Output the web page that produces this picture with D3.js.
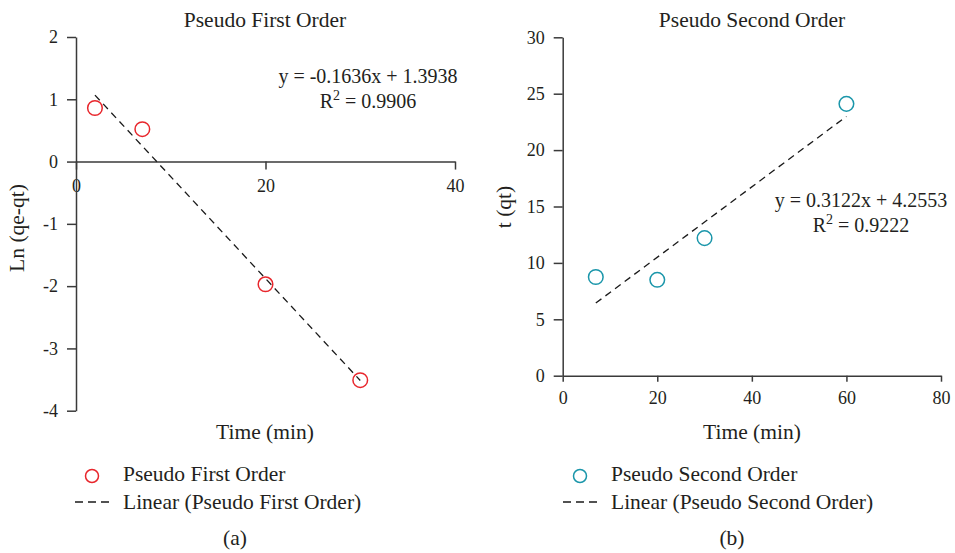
<!DOCTYPE html>
<html>
<head>
<meta charset="utf-8">
<script src="https://cdn.jsdelivr.net/npm/d3@7"></script>
<style>
    html, body { margin: 0; padding: 0; background: #fff; }
    svg text { font-family: "Liberation Serif", "Times New Roman", serif; fill: #231f20; }
</style>
</head>
<body>
<div id="chart-area"></div>
<script>
// Pseudo first order (panel a)
const pfoTime = [2, 7, 20, 30];
const pfoLn = [0.86, 0.52, -1.97, -3.51];
const pfoFit = [-0.1636, 1.3938];   // slope, intercept
const pfoR2 = '0.9906';

// Pseudo second order (panel b)
const psoTime = [7, 20, 30, 60];
const psoT = [8.75, 8.5, 12.2, 24.1];
const psoFit = [0.3122, 4.2553];
const psoR2 = '0.9222';

// Tick labels
const pfoXTicks = [0, 20, 40];
const pfoYTicks = [-4, -3, -2, -1, 0, 1, 2];
const psoXTicks = [0, 20, 40, 60, 80];
const psoYTicks = [0, 5, 10, 15, 20, 25, 30];

;(function () {
    'use strict';

    const WIDTH = 955;
    const HEIGHT = 553;
    const AXIS = '#3a3a3a';
    const RED = '#e8262c';
    const TEAL = '#1a96aa';
    const WORDS = '21.5px';     // titles, axis labels, legend
    const NUMS = '20px';        // equation text

    const svg = d3.select('#chart-area').append('svg')
        .attr('width', WIDTH)
        .attr('height', HEIGHT);

    function styleAxis(g) {
        g.select('.domain').attr('stroke', AXIS).attr('stroke-width', 1.5);
        g.selectAll('.tick line').attr('stroke', AXIS).attr('stroke-width', 1.5);
        g.selectAll('.tick text')
            .attr('font-family', '"Liberation Serif", serif')
            .attr('font-size', '18px')
            .attr('fill', '#231f20');
    }

    // Draws one panel; "p" holds everything that differs between a and b
    function panel(p) {
        const x = d3.scaleLinear().domain(p.xDomain).range(p.xRange);
        const y = d3.scaleLinear().domain(p.yDomain).range(p.yRange);

        // X axis sits on y = 0
        const gx = svg.append('g')
            .attr('transform', `translate(0,${y(0)})`)
            .call(d3.axisBottom(x).tickValues(p.xTicks).tickSize(p.xTickLen)
                .tickSizeOuter(0).tickPadding(p.xPad).tickFormat(d => String(d)));
        styleAxis(gx);

        const gy = svg.append('g')
            .attr('transform', `translate(${x(0)},0)`)
            .call(d3.axisLeft(y).tickValues(p.yTicks).tickSize(9)
                .tickSizeOuter(0).tickPadding(9).tickFormat(d => String(d)));
        styleAxis(gy);

        // Title
        svg.append('text')
            .attr('x', p.titleX).attr('y', 27)
            .attr('text-anchor', 'middle')
            .attr('font-size', WORDS)
            .text(p.title);

        // Axis labels
        svg.append('text')
            .attr('x', p.titleX).attr('y', 439)
            .attr('text-anchor', 'middle')
            .attr('font-size', WORDS)
            .text('Time (min)');

        svg.append('text')
            .attr('transform', `translate(${p.yLabelX},${p.yLabelY}) rotate(-90)`)
            .attr('text-anchor', 'middle')
            .attr('font-size', WORDS)
            .text(p.yLabel);

        // Trend line, from first to last measured time
        const x0 = d3.min(p.xs), x1 = d3.max(p.xs);
        const fit = v => p.fit[0] * v + p.fit[1];
        svg.append('line')
            .attr('x1', x(x0)).attr('y1', y(fit(x0)))
            .attr('x2', x(x1)).attr('y2', y(fit(x1)))
            .attr('stroke', '#1a1a1a')
            .attr('stroke-width', 1.3)
            .attr('stroke-dasharray', '7,5');

        // Data points
        svg.selectAll(null)
            .data(p.xs.map((v, i) => [v, p.ys[i]]))
            .enter()
            .append('circle')
            .attr('cx', d => x(d[0]))
            .attr('cy', d => y(d[1]))
            .attr('r', 7.3)
            .attr('fill', 'none')
            .attr('stroke', p.color)
            .attr('stroke-width', 1.5);

        // Equation and R squared
        const sign = p.fit[0] < 0 ? '-' : '';
        svg.append('text')
            .attr('x', p.eqX).attr('y', p.eqY)
            .attr('text-anchor', 'middle')
            .attr('font-size', NUMS)
            .text(`y = ${sign}${Math.abs(p.fit[0]).toFixed(4)}x + ${p.fit[1].toFixed(4)}`);

        const r2 = svg.append('text')
            .attr('x', p.eqX).attr('y', p.eqY + 25)
            .attr('text-anchor', 'middle')
            .attr('font-size', NUMS);
        r2.append('tspan').text('R');
        r2.append('tspan').attr('font-size', '14px').attr('dy', -8).text('2');
        r2.append('tspan').attr('dy', 8).text(` = ${p.r2}`);

        // Legend
        const lg = svg.append('g').attr('transform', `translate(${p.legX},0)`);
        lg.append('circle')
            .attr('cx', 0).attr('cy', 476)
            .attr('r', 6.5)
            .attr('fill', 'none')
            .attr('stroke', p.color)
            .attr('stroke-width', 1.5);
        lg.append('text')
            .attr('x', 31).attr('y', 481)
            .attr('font-size', WORDS)
            .text(p.title);
        lg.append('line')
            .attr('x1', -17).attr('x2', 18)
            .attr('y1', 502).attr('y2', 502)
            .attr('stroke', '#1a1a1a')
            .attr('stroke-width', 1.3)
            .attr('stroke-dasharray', '8,5');
        lg.append('text')
            .attr('x', 31).attr('y', 509)
            .attr('font-size', WORDS)
            .text(`Linear (${p.title})`);

        svg.append('text')
            .attr('x', p.capX).attr('y', 545)
            .attr('text-anchor', 'middle')
            .attr('font-size', WORDS)
            .text(p.caption);
    }

    panel({
        title: 'Pseudo First Order', yLabel: 'Ln (qe-qt)', caption: '(a)',
        xs: pfoTime, ys: pfoLn, fit: pfoFit, r2: pfoR2, color: RED,
        xDomain: [0, 40], xRange: [76, 455], xTicks: pfoXTicks, xTickLen: 8, xPad: 10,
        yDomain: [-4, 2], yRange: [410.7, 37], yTicks: pfoYTicks,
        titleX: 265, yLabelX: 24, yLabelY: 228,
        eqX: 368, eqY: 83, legX: 92, capX: 235
    });

    panel({
        title: 'Pseudo Second Order', yLabel: 't (qt)', caption: '(b)',
        xs: psoTime, ys: psoT, fit: psoFit, r2: psoR2, color: TEAL,
        xDomain: [0, 80], xRange: [562.7, 941], xTicks: psoXTicks, xTickLen: 6, xPad: 10,
        yDomain: [0, 30], yRange: [375.7, 37.3], yTicks: psoYTicks,
        titleX: 752, yLabelX: 511, yLabelY: 207,
        eqX: 861, eqY: 207, legX: 580, capX: 732
    });
})();
</script>
</body>
</html>
